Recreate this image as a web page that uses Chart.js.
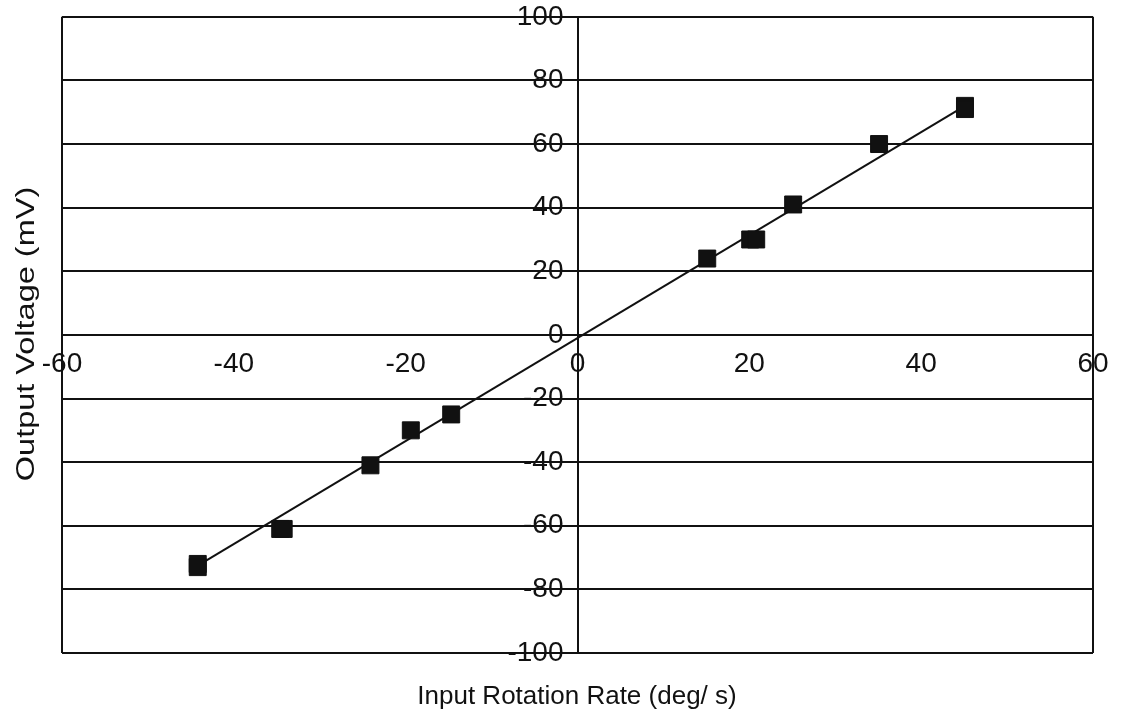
<!DOCTYPE html>
<html>
<head>
<meta charset="utf-8">
<script src="https://cdn.jsdelivr.net/npm/chart.js@4"></script>
<style>
    html, body { margin: 0; padding: 0; background: #fff; overflow: hidden; }
    /* nudged up 3px: Chart.js keeps room for the top "100" label */
    #wrap { width: 1125px; height: 727px; position: relative; top: -3px; }
</style>
</head>
<body>
<div id="wrap"><canvas id="chart"></canvas></div>
<script>
// Measured points (deg/s, mV)
const rateValues = [-44.2, -44.2, -34.6, -34.2, -24.1, -19.4, -14.7, 15.1, 20.1, 20.8, 25.1, 35.1, 45.1, 45.1];
const voltageValues = [-72, -73, -61, -61, -41, -30, -25, 24, 30, 30, 41, 60, 72, 71];

// Fitted line end points
const fitRates = [-44.2, 45.1];
const fitVoltages = [-72.5, 72];

const xTicks = [-60, -40, -20, 0, 20, 40, 60];
const yTicks = [-100, -80, -60, -40, -20, 0, 20, 40, 60, 80, 100];

const xTitle = "Input Rotation Rate (deg/ s)";
const yTitle = "Output Voltage (mV)";

const FONT = "'Liberation Sans', Arial, sans-serif";

// axis titles drawn outside the plot, since both axes sit at zero
const axisTitles = {
    id: "axisTitles",
    afterDraw(chart) {
        const { ctx } = chart;
        ctx.save();
        ctx.fillStyle = "#111";
        ctx.font = "26px " + FONT;
        ctx.textAlign = "center";
        ctx.textBaseline = "middle";
        ctx.fillText(xTitle, 577, 700);
        ctx.translate(27, 337);
        ctx.rotate(-Math.PI / 2);
        ctx.scale(1.25, 1); // the scanned title runs a bit longer
        ctx.fillText(yTitle, 0, 0);
        ctx.restore();
    }
};

const points = rateValues.map((x, i) => ({ x: x, y: voltageValues[i] }));
const fitPoints = fitRates.map((x, i) => ({ x: x, y: fitVoltages[i] }));

new Chart(document.getElementById("chart"), {
    type: "scatter",
    data: {
        datasets: [
            {
                label: "fit",
                data: fitPoints,
                showLine: true,
                borderColor: "#111",
                borderWidth: 2,
                pointRadius: 0,
                order: 2
            },
            {
                label: "measured",
                data: points,
                pointStyle: "rect",
                pointRadius: 12,
                backgroundColor: "#111",
                borderColor: "#111",
                borderWidth: 1,
                order: 1
            }
        ]
    },
    options: {
        responsive: true,
        maintainAspectRatio: false,
        animation: false,
        layout: { padding: { left: 62, right: 32, top: 4, bottom: 71 } },
        plugins: {
            legend: { display: false },
            tooltip: { enabled: false }
        },
        scales: {
            x: {
                type: "linear",
                position: { y: 0 },
                min: -60,
                max: 60,
                afterBuildTicks: (axis) => { axis.ticks = xTicks.map(v => ({ value: v })); },
                grid: {
                    drawTicks: false,
                    color: (c) => (c.tick && (c.tick.value === -60 || c.tick.value === 60)) ? "#111" : "rgba(0,0,0,0)",
                    lineWidth: 2
                },
                border: { display: true, color: "#111", width: 2 },
                ticks: {
                    padding: 13,
                    color: "#111",
                    font: { family: FONT, size: 28 },
                    maxRotation: 0,
                    autoSkip: false,
                    callback: (v) => String(v)
                }
            },
            y: {
                type: "linear",
                position: { x: 0 },
                min: -100,
                max: 100,
                afterBuildTicks: (axis) => { axis.ticks = yTicks.map(v => ({ value: v })); },
                grid: {
                    drawTicks: false,
                    color: "#111",
                    lineWidth: 2
                },
                border: { display: true, color: "#111", width: 2 },
                ticks: {
                    color: "#111",
                    font: { family: FONT, size: 28 },
                    autoSkip: false,
                    // padding is ignored for a centred axis, so keep a gap with an en space
                    callback: (v) => String(v) + "\u2002"
                }
            }
        }
    },
    plugins: [axisTitles]
});
</script>
</body>
</html>
